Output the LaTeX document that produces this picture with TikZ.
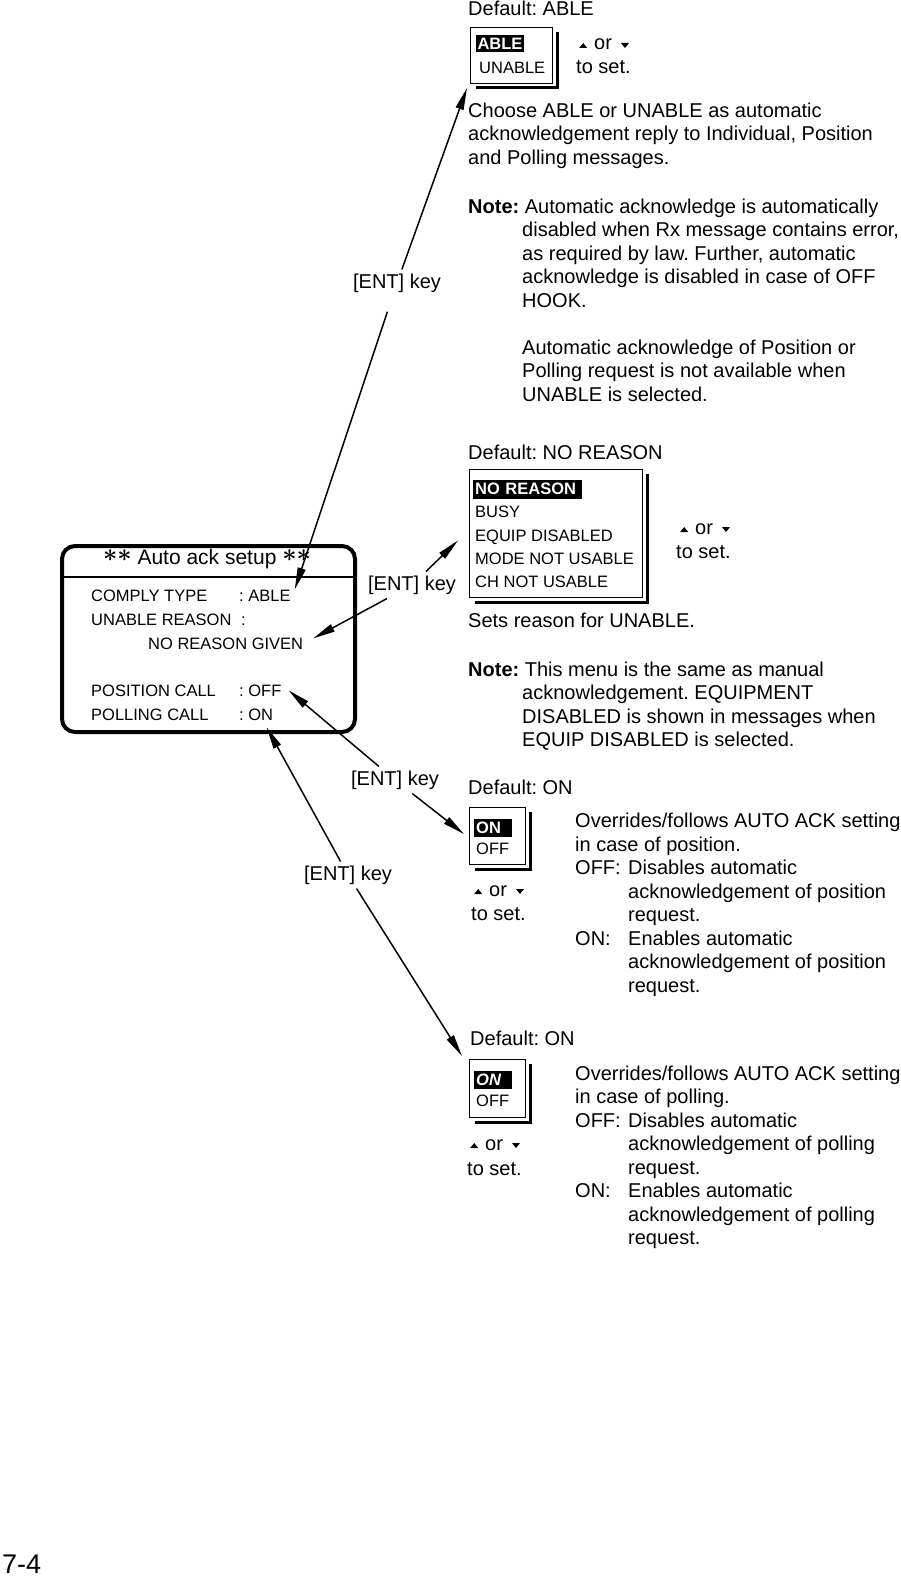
\documentclass[tikz,border=0pt]{standalone}
\usepackage{fontspec}
\setmainfont{Liberation Sans}
\usetikzlibrary{arrows.meta,positioning}

\newcommand{\upkey}{\tikz[baseline=-2pt]\fill (0pt,0pt) -- (8pt,0pt) -- (4pt,5pt) -- cycle;}
\newcommand{\downkey}{\tikz[baseline=-2pt]\fill (0pt,5pt) -- (8pt,5pt) -- (4pt,0pt) -- cycle;}
\newcommand{\keys}{\upkey\hspace{7pt}or\hspace{9pt}\downkey}
\newcommand{\stars}{\raisebox{3pt}{\fontsize{24}{24}\selectfont\boldmath${\ast}{\ast}$}}

\begin{document}
\frenchspacing
\begin{tikzpicture}[x=1pt,y=-1pt]
	\tikzset{
		txt/.style = {anchor=base west, inner sep=0pt, font=\fontsize{20}{23.5}\selectfont},
		para/.style = {anchor=north west, inner sep=0pt, align=left, font=\fontsize{20}{23.5}\selectfont},
		lcd/.style = {anchor=base west, inner sep=0pt, font=\fontsize{16.5}{20}\selectfont},
		menubox/.style = {draw, line width=1pt, anchor=north west, inner sep=0pt},
		shadowline/.style = {line width=3pt},
		hilite/.style = {fill=black, text=white, inner sep=0pt, font=\fontsize{16.5}{18}\selectfont\bfseries},
		entkey/.style = {font=\fontsize{20}{24}\selectfont, inner sep=4pt},
		entarrow/.style = {line width=1.5pt, -{Triangle[length=22pt,width=8pt]}}
	}
	\useasboundingbox (0,0) rectangle (901,1576);

	% setup screen
	\node[draw, line width=4pt, rounded corners=13pt, minimum width=293pt, minimum height=186pt] (setup) at (208.5,639) {};
	\draw[line width=1.5pt] (setup.west |- 0,577) -- (setup.east |- 0,577);
	\node[font=\fontsize{21}{24}\selectfont] (title) at (207,559) {\stars{} Auto ack setup \stars};
	\node[lcd] (comply) at (91,601) {COMPLY TYPE};
	\node[lcd] (complyval) at (239,601) {: ABLE};
	\node[lcd] (reason) at (91,625) {UNABLE REASON};
	\node[lcd] (reasonval) at (241,625) {:};
	\node[lcd] (noreason) at (148,649) {NO REASON GIVEN};
	\node[lcd] (poscall) at (91,696) {POSITION CALL};
	\node[lcd] (offval) at (239,696) {: OFF};
	\node[lcd] (pollcall) at (91,720) {POLLING CALL};
	\node[lcd] (onval) at (239,720) {: ON};

	% comply type
	\node[txt] (defable) at (468,15.5) {Default: ABLE};
	\node[menubox, minimum width=82pt, minimum height=56pt] (ablebox) at (470,27) {};
	\draw[shadowline] ([xshift=4.5pt,yshift=-5pt]ablebox.north east) |- ([xshift=6pt,yshift=-4pt]ablebox.south west);
	\node[hilite, minimum width=48pt, minimum height=17pt] (able) at (500,43.5) {ABLE};
	\node[lcd] (unable) at (479,73.5) {UNABLE};
	\node[txt] (ablekeys) at (579,50) {\keys};
	\node[txt] (ableset) at (576,74) {to set.};
	\node[para] (abletext) at (468,102.6) {Choose ABLE or UNABLE as automatic\\acknowledgement reply to Individual, Position\\and Polling messages.};
	\node[txt] (note1) at (468,213) {\textbf{Note:} Automatic acknowledge is automatically};
	\node[para] (note1b) at (522,222.1) {disabled when Rx message contains error,\\as required by law. Further, automatic\\acknowledge is disabled in case of OFF\\HOOK.\\[23.5pt]Automatic acknowledge of Position or\\Polling request is not available when\\UNABLE is selected.};

	% unable reason
	\node[txt] (defreason) at (468,459.5) {Default: NO REASON};
	\node[menubox, minimum width=173pt, minimum height=128pt] (reasonbox) at (469,469) {};
	\draw[shadowline] ([xshift=4.5pt,yshift=-5pt]reasonbox.north east) |- ([xshift=6pt,yshift=-4pt]reasonbox.south west);
	\node[hilite, anchor=west, inner xsep=2pt, minimum height=19pt, text width=105pt] (noreasonsel) at (473,489) {NO REASON};
	\foreach \entry [count=\i] in {BUSY, EQUIP DISABLED, MODE NOT USABLE, CH NOT USABLE}
		\node[lcd] (reason\i) at (475,494.5+23.3*\i) {\entry};
	\node[txt] (reasonkeys) at (680,534) {\keys};
	\node[txt] (reasonset) at (676,558) {to set.};
	\node[txt] (sets) at (468,627.5) {Sets reason for UNABLE.};
	\node[txt] (note2) at (468,676) {\textbf{Note:} This menu is the same as manual};
	\node[para] (note2b) at (522,685.1) {acknowledgement. EQUIPMENT\\DISABLED is shown in messages when\\EQUIP DISABLED is selected.};

	% position call
	\node[txt] (defpos) at (468,794) {Default: ON};
	\node[menubox, minimum width=56pt, minimum height=57pt] (posbox) at (469,807) {};
	\draw[shadowline] ([xshift=4.5pt,yshift=-5pt]posbox.north east) |- ([xshift=6pt,yshift=-4pt]posbox.south west);
	\node[hilite, anchor=west, inner xsep=2pt, minimum height=18pt, text width=34pt] (poson) at (474,828) {ON};
	\node[lcd] (posoff) at (476,854) {OFF};
	\node[txt] (poskeys) at (474,896) {\keys};
	\node[txt] (posset) at (471,920) {to set.};
	\node[para] (postext) at (575,813.1) {Overrides/follows AUTO ACK setting\\in case of position.\\\makebox[53pt][l]{OFF:}Disables automatic\\\hspace*{53pt}acknowledgement of position\\\hspace*{53pt}request.\\\makebox[53pt][l]{ON:}Enables automatic\\\hspace*{53pt}acknowledgement of position\\\hspace*{53pt}request.};

	% polling call
	\node[txt] (defpoll) at (470,1045) {Default: ON};
	\node[menubox, minimum width=56pt, minimum height=58pt] (pollbox) at (469,1059) {};
	\draw[shadowline] ([xshift=4.5pt,yshift=-5pt]pollbox.north east) |- ([xshift=6pt,yshift=-4pt]pollbox.south west);
	\node[hilite, anchor=west, inner xsep=2pt, minimum height=18pt, text width=34pt, font=\fontsize{16.5}{18}\selectfont\bfseries\itshape] (pollon) at (474,1080) {ON};
	\node[lcd] (polloff) at (476,1106) {OFF};
	\node[txt] (pollkeys) at (470,1150) {\keys};
	\node[txt] (pollset) at (467,1175) {to set.};
	\node[para] (polltext) at (575,1065.6) {Overrides/follows AUTO ACK setting\\in case of polling.\\\makebox[53pt][l]{OFF:}Disables automatic\\\hspace*{53pt}acknowledgement of polling\\\hspace*{53pt}request.\\\makebox[53pt][l]{ON:}Enables automatic\\\hspace*{53pt}acknowledgement of polling\\\hspace*{53pt}request.};

	\node[anchor=base west, inner sep=0pt, font=\fontsize{27}{30}\selectfont] (pageno) at (2,1573) {7-4};

	% [ENT] key arrows
	\node[entkey] (ent1) at (397,283) {[ENT] key};
	\node[entkey] (ent2) at (412,585) {[ENT] key};
	\node[entkey] (ent3) at (395,780) {[ENT] key};
	\node[entkey] (ent4) at (348,875) {[ENT] key};
	\draw[entarrow] (ent1) -- ([xshift=-3pt,yshift=-4pt]ablebox.south west);
	\draw[entarrow, shorten <=16pt] (ent1) -- ([xshift=4pt]complyval.north east);
	\draw[entarrow] (ent2) -- ([xshift=-11pt,yshift=-7pt]reasonbox.west);
	\draw[entarrow] (ent2) -- ([xshift=10pt,yshift=5pt]noreason.east);
	\draw[entarrow] (ent3) -- ([xshift=7pt]offval.east);
	\draw[entarrow] (ent3) -- ([xshift=-5pt,yshift=2pt]posbox.west);
	\draw[entarrow] (ent4) -- ([xshift=10.5pt,yshift=-7pt]onval.south);
	\draw[entarrow] (ent4) -- ([xshift=-7pt,yshift=3pt]pollbox.north west);
\end{tikzpicture}
\end{document}
